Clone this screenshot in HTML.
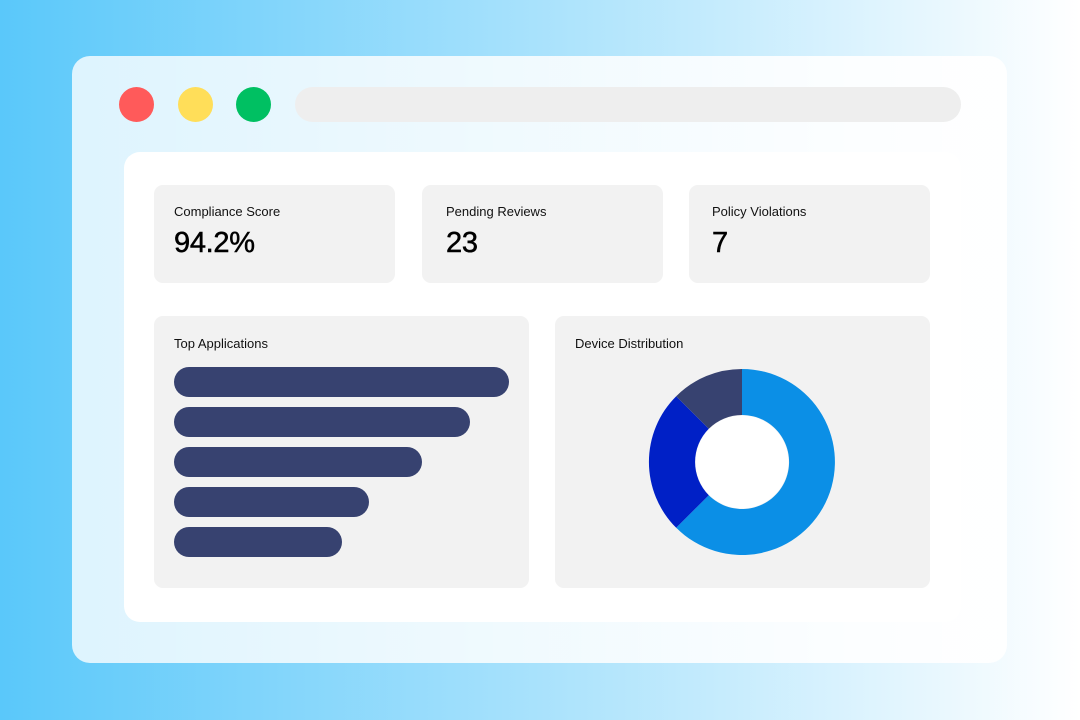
<!DOCTYPE html>
<html><head><style>
*{margin:0;padding:0;box-sizing:border-box}
body{width:1080px;height:720px;overflow:hidden;position:relative;font-family:"Liberation Sans",sans-serif;background:linear-gradient(90deg,#5ac8fa 0%,#a9e2fc 50%,#ffffff 100%)}
.a{position:absolute}
.card{background:#f2f2f2;border-radius:9px}
.lbl{position:absolute;font-size:13px;color:#111}
.val{position:absolute;font-size:29px;color:#000;font-weight:500;letter-spacing:-0.3px;-webkit-text-stroke:0.5px #000}
.bar{position:absolute;left:174px;height:30px;border-radius:15px;background:#374270}
</style></head><body>
<div class="a" style="left:72px;top:56px;width:935px;height:607px;border-radius:18px;background:linear-gradient(90deg,rgba(255,255,255,0.78),rgba(255,255,255,0.85) 60%,rgba(255,255,255,0.95))"></div>
<div class="a" style="left:119px;top:87px;width:35px;height:35px;border-radius:50%;background:#ff5a5a"></div>
<div class="a" style="left:178px;top:87px;width:35px;height:35px;border-radius:50%;background:#ffde59"></div>
<div class="a" style="left:236px;top:87px;width:35px;height:35px;border-radius:50%;background:#00c062"></div>
<div class="a" style="left:295px;top:87px;width:666px;height:35px;border-radius:18px;background:#eeeeee"></div>
<div class="a" style="left:124px;top:152px;width:837px;height:470px;border-radius:16px;background:#fff"></div>

<div class="a card" style="left:154px;top:185px;width:241px;height:98px"><div class="lbl" style="left:20px;top:19px">Compliance Score</div><div class="val" style="left:20px;top:42px">94.2%</div></div>
<div class="a card" style="left:422px;top:185px;width:241px;height:98px"><div class="lbl" style="left:24px;top:19px">Pending Reviews</div><div class="val" style="left:24px;top:42px">23</div></div>
<div class="a card" style="left:689px;top:185px;width:241px;height:98px"><div class="lbl" style="left:23px;top:19px">Policy Violations</div><div class="val" style="left:23px;top:42px">7</div></div>

<div class="a card" style="left:154px;top:316px;width:375px;height:272px"><div class="lbl" style="left:20px;top:20px">Top Applications</div></div>
<div class="bar" style="top:367px;width:335px"></div>
<div class="bar" style="top:407px;width:296px"></div>
<div class="bar" style="top:447px;width:248px"></div>
<div class="bar" style="top:487px;width:195px"></div>
<div class="bar" style="top:527px;width:168px"></div>

<div class="a card" style="left:555px;top:316px;width:375px;height:272px"><div class="lbl" style="left:20px;top:20px">Device Distribution</div></div>
<svg class="a" style="left:0;top:0" width="1080" height="720">
<path d="M742,369 A93,93 0 1 1 676.2,527.8 L708.8,495.2 A47,47 0 1 0 742,415 Z" fill="#0b8fe6"/>
<path d="M676.2,527.8 A93,93 0 0 1 676.2,396.2 L708.8,428.8 A47,47 0 0 0 708.8,495.2 Z" fill="#0020c6"/>
<path d="M676.2,396.2 A93,93 0 0 1 742,369 L742,415 A47,47 0 0 0 708.8,428.8 Z" fill="#374270"/>
<circle cx="742" cy="462" r="46.5" fill="#fff"/>
</svg>
</body></html>
